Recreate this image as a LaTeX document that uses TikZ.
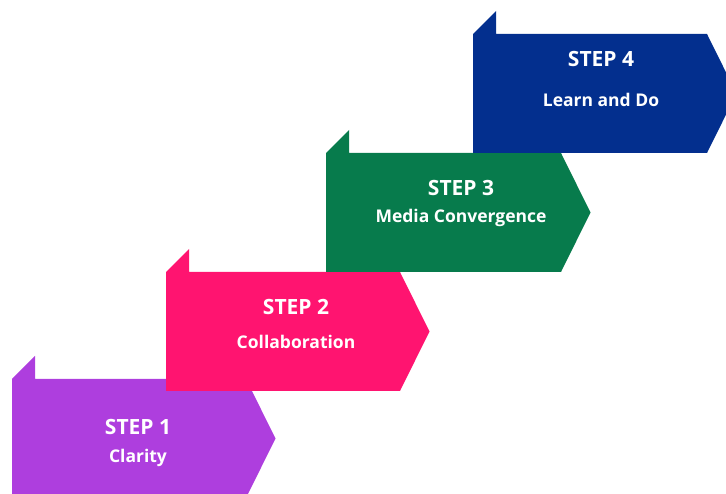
\documentclass[tikz,border=0pt]{standalone}
\usepackage{fontspec}
\setmainfont{Open Sans}

\definecolor{stepone}{HTML}{AE3EDE}
\definecolor{steptwo}{HTML}{FF1470}
\definecolor{stepthree}{HTML}{077B4C}
\definecolor{stepfour}{HTML}{032F8E}

\begin{document}
\begin{tikzpicture}[x=1pt,y=-1pt,every node/.style={text=white,inner sep=0pt}]
\def\flagheight{119}
\def\tipdepth{29.5}
\def\tabsize{23}

\clip (0,0) rectangle (726,494);

% Macro for step flag
\newcommand{\stepflag}[9]{
    % Flag
    \fill[#1] (#2,#3) -- (#2+\tabsize,#3-\tabsize) -- (#2+\tabsize,#3) -- (#4,#3)
        -- (#4+\tipdepth,#3+0.5*\flagheight) -- (#4,#3+\flagheight) -- (#2,#3+\flagheight) -- cycle;

    % Text
    \node[font=\fontsize{21}{25}\bfseries\selectfont] (step#8) at (#5,#6) {STEP #8};
    \node[font=\fontsize{17.5}{21}\bfseries\selectfont] (label#8) at (#5,#7) {#9};
}

% Step 1
\stepflag{stepone}{12}{379}{246}{138}{427}{458}{1}{Clarity}

% Step 2
\stepflag{steptwo}{166}{272}{400}{296}{307}{342}{2}{Collaboration}

% Step 3
\stepflag{stepthree}{326}{153}{561}{461}{188}{218}{3}{Media Convergence}

% Step 4
\stepflag{stepfour}{473}{34}{707}{601}{59}{100}{4}{Learn and Do}

\end{tikzpicture}
\end{document}
